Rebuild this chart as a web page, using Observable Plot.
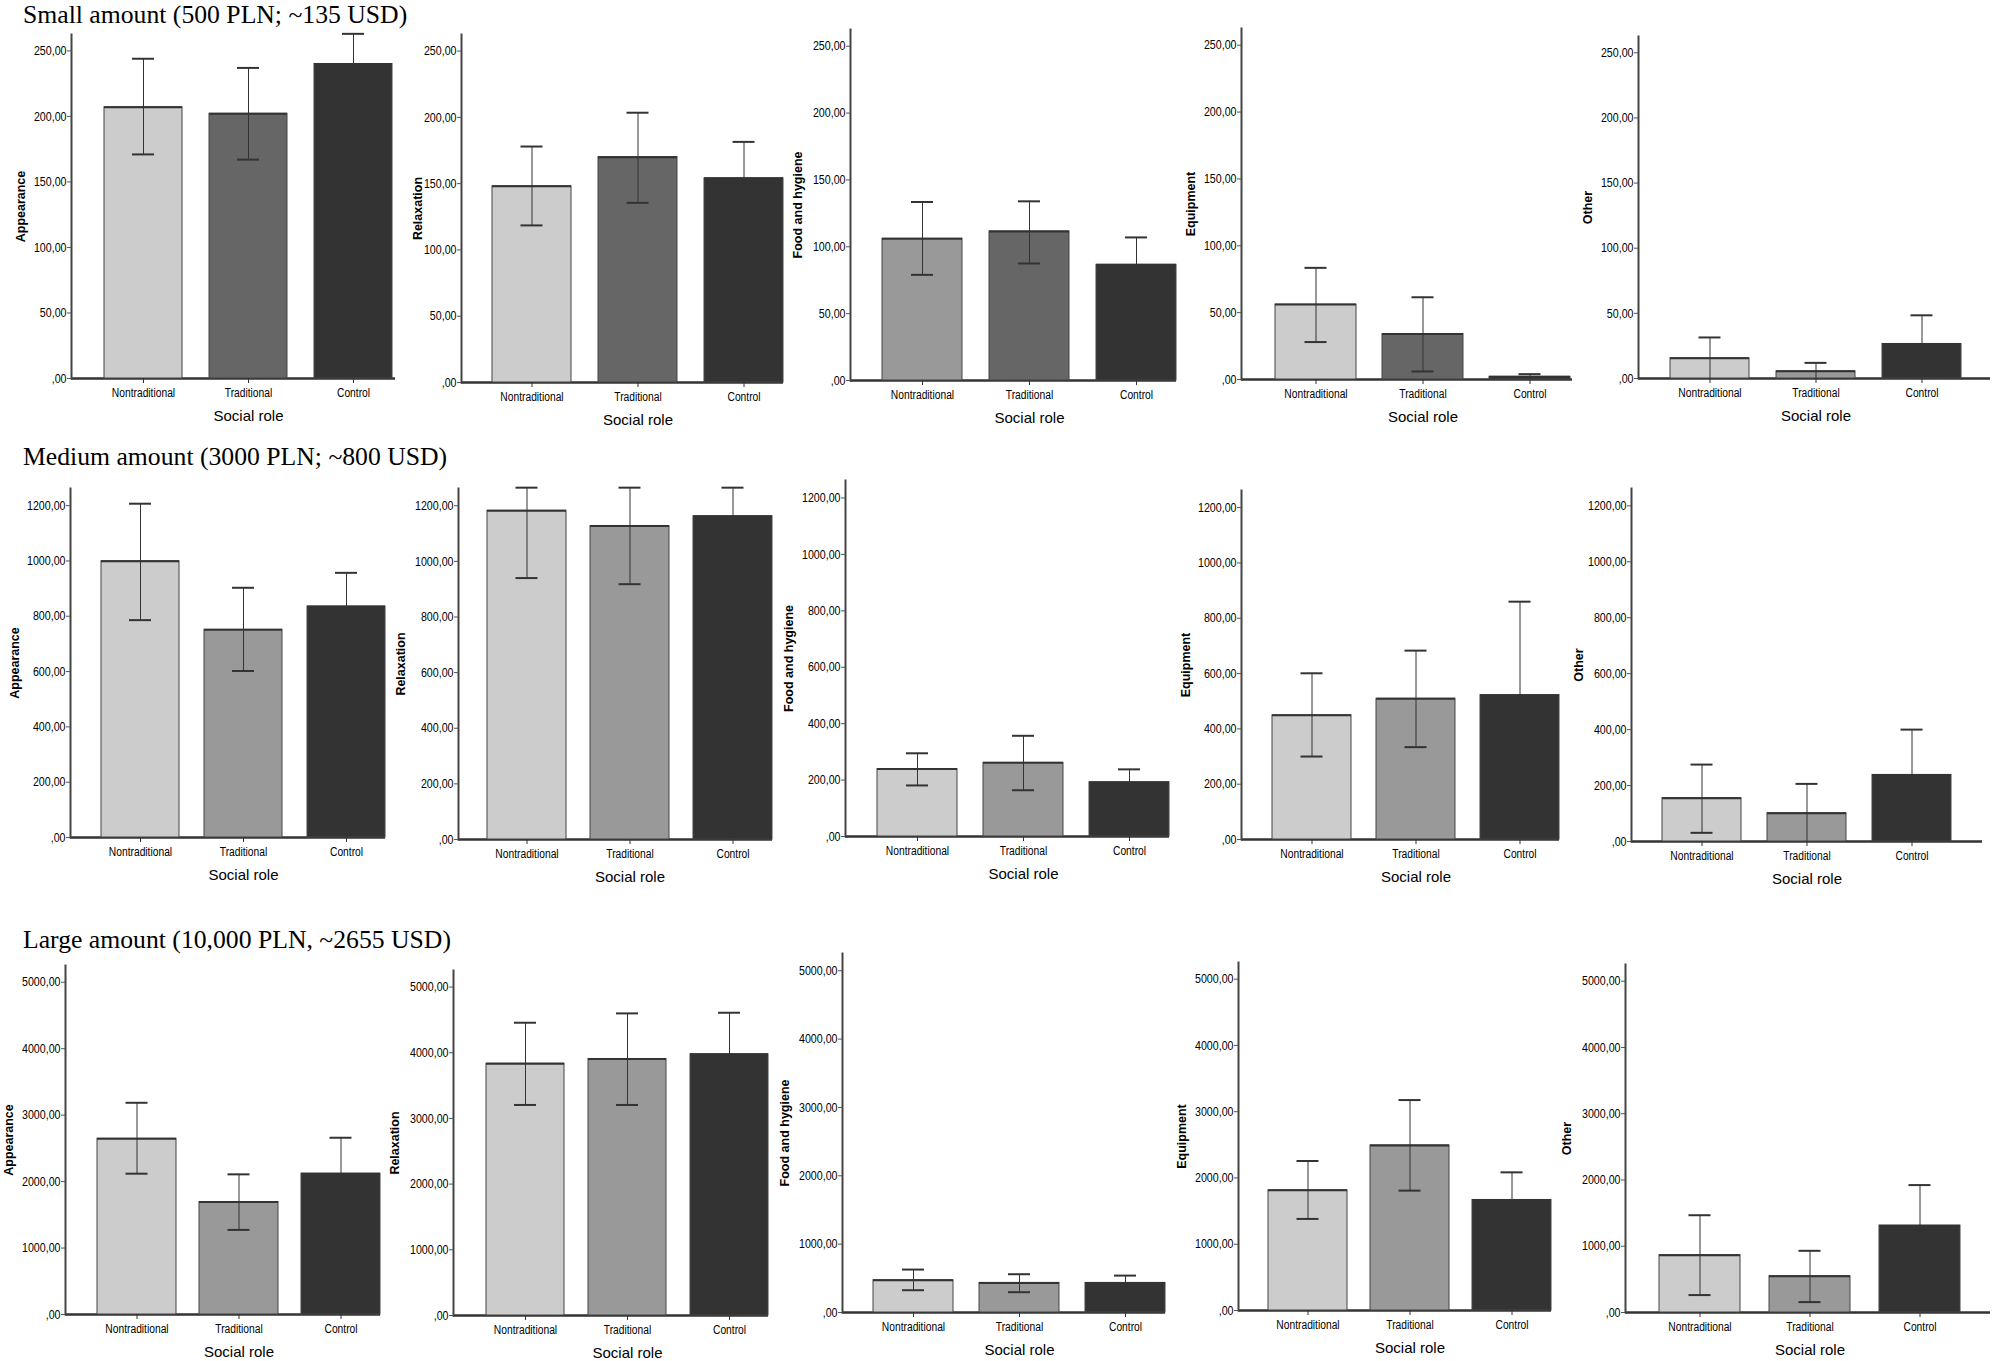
<!DOCTYPE html>
<html>
<head>
<meta charset="utf-8">
<script src="https://cdn.jsdelivr.net/npm/d3@7"></script>
<script src="https://cdn.jsdelivr.net/npm/@observablehq/plot@0.6"></script>
<style>
  html, body { margin: 0; padding: 0; background: #fff; }
  #page { position: relative; width: 2000px; height: 1361px; overflow: hidden; background: #fff; }
  .rowtitle { position: absolute; left: 23px; font-family: "Liberation Serif", "Times New Roman", serif; font-size: 25.7px; line-height: 25px; color: #000; white-space: nowrap; }
  .panel { position: absolute; }
</style>
</head>
<body>
<div id="page"></div>
<script>
// ---------------- data ----------------
const roles = ["Nontraditional", "Traditional", "Control"];
const spending = ["Appearance", "Relaxation", "Food and hygiene", "Equipment", "Other"];
const amountTitles = [
  "Small amount (500 PLN; ~135 USD)",
  "Medium amount (3000 PLN; ~800 USD)",
  "Large amount (10,000 PLN, ~2655 USD)"
];
const smallTicks = [0, 50, 100, 150, 200, 250];
const mediumTicks = [0, 200, 400, 600, 800, 1000, 1200];
const largeTicks = [0, 1000, 2000, 3000, 4000, 5000];
const xAxisLabel = "Social role";

// means and error-bar limits per spending category: [Nontraditional, Traditional, Control]
const smallMean = [[207, 202, 240], [148, 170, 154], [106, 111.5, 86.5], [56, 34, 2], [15.5, 5.5, 26.5]];
const smallLow  = [[171, 167, 204], [118.5, 135.5, 126], [79, 87.5, 65.5], [28, 6, 0], [0, 0, 3]];
const smallHigh = [[244, 237, 263], [178, 203.5, 181.5], [133.5, 134, 107], [83.5, 61.5, 4], [31.5, 12, 48.5]];

const mediumMean = [[999, 751, 835], [1182, 1127, 1162], [239, 261, 192], [449, 509, 522], [155, 101, 238]];
const mediumLow  = [[786, 602, 711], [940, 918, 989], [181, 164, 145], [300, 334, 188], [31, 0, 77]];
const mediumHigh = [[1207, 903, 957], [1265, 1265, 1265], [295, 357, 238], [601, 683, 860], [275, 206, 400]];

const largeMean = [[2645, 1693, 2119], [3834, 3905, 3976], [472, 433, 433], [1814, 2492, 1668], [865, 547, 1311]];
const largeLow  = [[2119, 1273, 1578], [3205, 3205, 3327], [326, 297, 326], [1382, 1809, 1221], [263, 157, 693]];
const largeHigh = [[3186, 2109, 2660], [4457, 4599, 4609], [628, 560, 540], [2256, 3176, 2085], [1468, 931, 1923]];

// ---------------- styles ----------------
const L = "#cccccc", M = "#999999", D = "#666666", K = "#333333";
const shades = [
  [[L, D, K], [L, D, K], [M, D, K], [L, D, K], [L, M, K]],
  [[L, M, K], [L, M, K], [L, M, K], [L, M, K], [L, M, K]],
  [[L, M, K], [L, M, K], [L, M, K], [L, M, K], [L, M, K]]
];

// ---------------- layout (page pixels) ----------------
const rowTitleTop = [2, 444, 927];
const rowYMax = [262.5, 1262, 5252];
const geom = [
  [
    {ax: 71,   top: 34, zero: 378, right: 395,  L: 104,  R: 392,  bw: 78, lab: 51},
    {ax: 461,  top: 34, zero: 382, right: 783,  L: 491,  R: 783,  bw: 79, lab: 44},
    {ax: 850,  top: 29, zero: 380, right: 1176, L: 882,  R: 1176, bw: 80, lab: 53},
    {ax: 1241, top: 28, zero: 379, right: 1572, L: 1274, R: 1570, bw: 81, lab: 51},
    {ax: 1638, top: 36, zero: 378, right: 1990, L: 1669, R: 1961, bw: 79, lab: 51}
  ],
  [
    {ax: 70,   top: 488, zero: 837, right: 385,  L: 101,  R: 385,  bw: 78, lab: 56},
    {ax: 458,  top: 488, zero: 839, right: 772,  L: 487,  R: 772,  bw: 79, lab: 58},
    {ax: 845,  top: 480, zero: 836, right: 1169, L: 876,  R: 1169, bw: 80, lab: 57},
    {ax: 1241, top: 490, zero: 839, right: 1559, L: 1272, R: 1559, bw: 79, lab: 56},
    {ax: 1631, top: 488, zero: 841, right: 1982, L: 1662, R: 1951, bw: 79, lab: 53}
  ],
  [
    {ax: 65,   top: 965, zero: 1314, right: 380,  L: 97,   R: 380,  bw: 79, lab: 57},
    {ax: 453,  top: 970, zero: 1315, right: 768,  L: 485,  R: 768,  bw: 78, lab: 59},
    {ax: 842,  top: 953, zero: 1312, right: 1165, L: 873,  R: 1165, bw: 80, lab: 58},
    {ax: 1238, top: 962, zero: 1310, right: 1551, L: 1268, R: 1551, bw: 79, lab: 57},
    {ax: 1625, top: 964, zero: 1312, right: 1990, L: 1658, R: 1960, bw: 81, lab: 59}
  ]
];

const means = [smallMean, mediumMean, largeMean];
const lows = [smallLow, mediumLow, largeLow];
const highs = [smallHigh, mediumHigh, largeHigh];
const ticks = [smallTicks, mediumTicks, largeTicks];

const sans = "'Liberation Sans', Arial, sans-serif";
const fmt = d => d === 0 ? ",00" : d.toFixed(2).replace(".", ",");

const page = document.getElementById("page");

amountTitles.forEach((t, r) => {
  const div = document.createElement("div");
  div.className = "rowtitle";
  div.style.top = rowTitleTop[r] + "px";
  div.textContent = t;
  page.appendChild(div);
});

// emulate a narrow (condensed) face by compressing glyphs horizontally
function condense(svg) {
  const sel = 'g[aria-label="y-axis tick label"] text, g[aria-label="x-axis tick label"] text, g[aria-label="social-role"] text';
  svg.querySelectorAll(sel).forEach(t => {
    const w = t.getComputedTextLength();
    if (w > 0) {
      t.setAttribute("textLength", (w * 0.82).toFixed(2));
      t.setAttribute("lengthAdjust", "spacingAndGlyphs");
    }
  });
}

function panel(r, c) {
  const g = geom[r][c];
  const mL = 78, mR = 6, mT = 6, mB = 52;
  const width = g.right - g.ax + mL + mR;
  const height = g.zero - g.top + mT + mB;
  const data = roles.map((role, i) => ({
    role,
    mean: means[r][c][i],
    lo: lows[r][c][i],
    hi: highs[r][c][i],
    fill: shades[r][c][i]
  }));
  const step = (g.R - g.L - g.bw) / 2;
  const pi = (step - g.bw) / step;
  const capInset = Math.max(0, (g.bw - 22) / 2);
  const chart = Plot.plot({
    width, height,
    marginLeft: mL, marginRight: mR, marginTop: mT, marginBottom: mB,
    style: `background: transparent; overflow: visible; max-width: none; font-family: ${sans}; font-size: 12.5px;`,
    x: {type: "band", domain: roles, range: [g.L - g.ax + mL, g.R - g.ax + mL], paddingInner: pi, paddingOuter: 0, align: 0.5},
    y: {domain: [0, rowYMax[r]], range: [height - mB, mT]},
    color: {type: "identity"},
    marks: [
      Plot.ruleY([0], {stroke: "#333", strokeWidth: 2.5}),
      Plot.barY(data, {x: "role", y: "mean", fill: "fill", stroke: "#444", strokeWidth: 1}),
      Plot.tickY(data, {x: "role", y: "mean", stroke: "#333", strokeWidth: 2}),
      Plot.ruleX(data, {x: "role", y1: "lo", y2: "hi", stroke: "#333", strokeWidth: 1}),
      Plot.tickY(data, {x: "role", y: "hi", stroke: "#333", strokeWidth: 2, inset: capInset}),
      Plot.tickY(data.filter(d => d.lo > 0), {x: "role", y: "lo", stroke: "#333", strokeWidth: 2, inset: capInset}),
      Plot.frame({anchor: "left", stroke: "#444", strokeWidth: 2}),
      Plot.axisY({ticks: ticks[r], tickSize: 4, tickPadding: 1, tickFormat: fmt, label: null, fontSize: 13, stroke: "#555"}),
      Plot.axisX({tickSize: 5, tickPadding: 5, label: null, fontSize: 12.5, stroke: "#333"}),
      Plot.text([spending[c]], {frameAnchor: "left", dx: -g.lab, rotate: -90, textAnchor: "middle", lineAnchor: "middle",
        fontFamily: sans, fontWeight: "bold", fontSize: 12.5, fill: "#000", ariaLabel: "y-title"}),
      Plot.text([xAxisLabel], {x: ["Traditional"], frameAnchor: "bottom", dy: 38, lineAnchor: "middle", textAnchor: "middle",
        fontSize: 15, fill: "#000", ariaLabel: "social-role"})
    ]
  });
  chart.classList.add("panel");
  chart.style.left = (g.ax - mL) + "px";
  chart.style.top = (g.top - mT) + "px";
  page.appendChild(chart);
  chart.querySelectorAll('g[aria-label="y-title"] text').forEach(t => t.setAttribute("letter-spacing", "0.6"));
  condense(chart);
}

for (let r = 0; r < 3; r++) for (let c = 0; c < 5; c++) panel(r, c);
</script>
</body>
</html>
